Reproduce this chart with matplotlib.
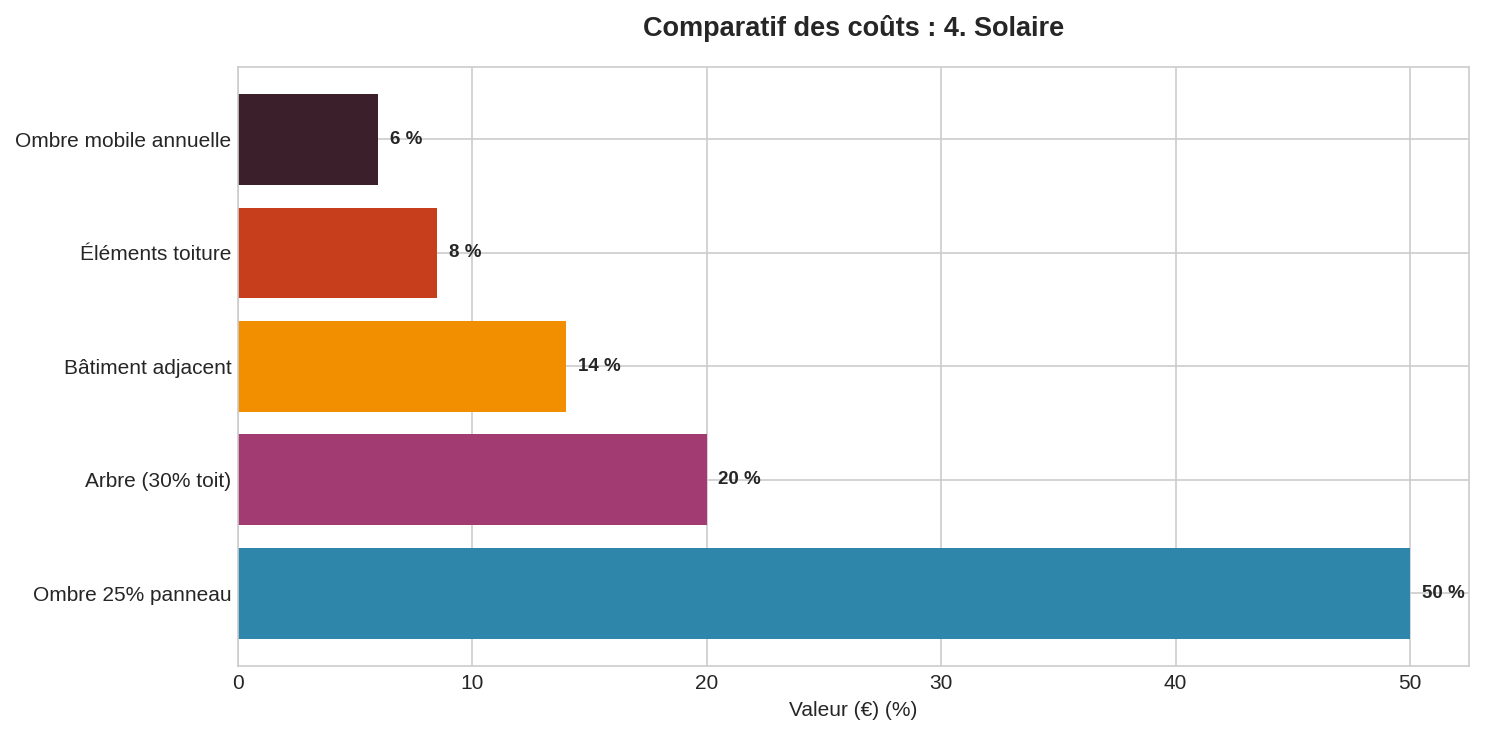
import matplotlib
matplotlib.use("Agg")
import matplotlib.pyplot as plt

categories = ["Ombre 25% panneau", "Arbre (30% toit)", "Bâtiment adjacent",
              "Éléments toiture", "Ombre mobile annuelle"]
values = [50, 20, 14, 8.5, 6]
labels = ["50 %", "20 %", "14 %", "8 %", "6 %"]
colors = ["#2E86AB", "#A23B72", "#F18F01", "#C73E1D", "#3B1F2B"]

plt.style.use("seaborn-v0_8-whitegrid")
plt.rcParams["font.family"] = ["Liberation Sans", "DejaVu Sans"]

fig, ax = plt.subplots(figsize=(14.85, 7.35), dpi=100)
ax.barh(categories, values, color=colors, height=0.8)

for i, (v, lab) in enumerate(zip(values, labels)):
    ax.text(v + 0.5, i, lab, va="center", ha="left",
            fontsize=13.5, fontweight="bold", color="#262626")

ax.set_xlim(0, 52.5)
ax.set_xlabel("Valeur (€) (%)", fontsize=15, color="#262626", labelpad=6)
ax.set_title("Comparatif des coûts : 4. Solaire", fontsize=19.5,
             fontweight="bold", color="#262626", pad=22)
ax.tick_params(axis="both", labelsize=15, colors="#262626")
ax.tick_params(axis="x", pad=5.5)
ax.tick_params(axis="y", pad=4.5)
for sp in ax.spines.values():
    sp.set_visible(True)
    sp.set_color("#cccccc")
    sp.set_linewidth(1.2)
ax.grid(True, color="#cccccc", linewidth=1.2)

plt.subplots_adjust(left=0.16, right=0.989, top=0.909, bottom=0.094)
plt.savefig("out.png")
